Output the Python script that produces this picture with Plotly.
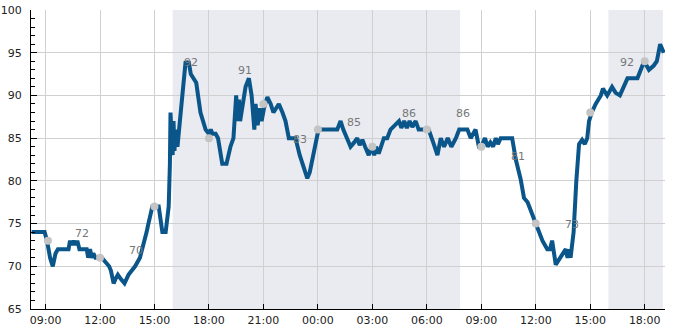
import pandas as pd
import plotly.graph_objects as go

BASE = pd.Timestamp("2024-06-01")

def ts(s):
    d, hm = s.split()
    h, m = hm.split(":")
    return BASE + pd.Timedelta(days=int(d), hours=int(h), minutes=int(m))

# ---- data (day offset + clock time) ----
line_times = [
    "0 08:14", "0 08:57", "0 09:05", "0 09:15", "0 09:24", "0 09:33", "0 09:41", "0 10:16",
    "0 10:21", "0 10:27", "0 10:33", "0 10:39", "0 10:45", "0 10:52", "0 11:16", "0 11:21",
    "0 11:27", "0 11:33", "0 11:38", "0 11:45", "0 12:00", "0 12:06", "0 12:18", "0 12:30",
    "0 12:36", "0 12:45", "0 12:51", "0 12:59", "0 13:09", "0 13:21", "0 13:34", "0 13:45",
    "0 13:56", "0 14:12", "0 14:24", "0 14:34", "0 14:40", "0 14:53", "0 15:14", "0 15:26",
    "0 15:37", "0 15:47", "0 15:51", "0 15:53", "0 15:57", "0 16:00", "0 16:03", "0 16:06",
    "0 16:11", "0 16:16", "0 16:24", "0 16:32", "0 16:38", "0 16:43", "0 16:48", "0 16:53",
    "0 17:00", "0 17:10", "0 17:18", "0 17:32", "0 17:49", "0 18:00", "0 18:06", "0 18:12",
    "0 18:22", "0 18:30", "0 18:44", "0 18:58", "0 19:11", "0 19:21", "0 19:30", "0 19:34",
    "0 19:39", "0 19:43", "0 19:51", "0 20:01", "0 20:12", "0 20:21", "0 20:30", "0 20:34",
    "0 20:41", "0 20:48", "0 20:54", "0 21:02", "0 21:13", "0 21:24", "0 21:33", "0 21:42",
    "0 21:51", "0 22:03", "0 22:13", "0 22:24", "0 22:46", "0 23:00", "0 23:25", "0 23:33",
    "0 23:45", "0 23:58", "1 00:02", "1 01:04", "1 01:15", "1 01:24", "1 01:36", "1 01:48",
    "1 02:00", "1 02:10", "1 02:18", "1 02:27", "1 02:36", "1 02:48", "1 02:57", "1 03:06",
    "1 03:12", "1 03:21", "1 03:38", "1 03:49", "1 04:00", "1 04:28", "1 04:36", "1 04:45",
    "1 04:54", "1 05:03", "1 05:12", "1 05:23", "1 05:33", "1 06:06", "1 06:21", "1 06:35",
    "1 06:46", "1 06:57", "1 07:09", "1 07:21", "1 07:36", "1 07:47", "1 08:14", "1 08:25",
    "1 08:41", "1 08:52", "1 09:00", "1 09:12", "1 09:21", "1 09:30", "1 09:39", "1 09:48",
    "1 09:55", "1 10:04", "1 10:42", "1 10:54", "1 11:10", "1 11:21", "1 11:33", "1 11:48",
    "1 12:00", "1 12:22", "1 12:38", "1 12:47", "1 12:54", "1 13:06", "1 13:22", "1 13:30",
    "1 13:39", "1 13:45", "1 13:51", "1 13:55", "1 14:01", "1 14:05", "1 14:14", "1 14:23",
    "1 14:33", "1 14:42", "1 14:50", "1 14:56", "1 15:05", "1 15:18", "1 15:35", "1 15:42",
    "1 15:56", "1 16:12", "1 16:24", "1 16:38", "1 17:03", "1 17:36", "1 17:58", "1 18:14",
    "1 18:30", "1 18:40", "1 18:51", "1 19:03",
]
line_values = [
    74, 74, 73, 71, 70, 71.5, 72, 72,
    73, 72.5, 73, 72.5, 73, 72, 72, 71,
    72, 71, 71.5, 71, 71, 71, 70.5, 70,
    69.5, 68, 68.5, 69, 68.5, 68, 69, 69.5,
    70, 71, 72.5, 74, 75, 77, 77, 74,
    74, 77, 82, 88, 85, 83, 87, 83.5,
    86, 84, 87, 90, 92, 94, 93.5, 94,
    92.5, 92, 91.5, 88, 86, 85.5, 86, 85.5,
    85.5, 85, 82, 82, 84, 85, 90, 87,
    89.5, 87, 89, 91, 92, 90, 86, 89,
    86.5, 88.5, 87, 88.5, 89.8, 89, 88, 88.5,
    89, 88, 87, 85, 85, 83, 80.3, 81,
    83, 85, 86, 86, 87, 86, 85, 84,
    84.5, 85, 84.2, 84.8, 84, 83, 84, 83,
    84, 83.2, 85, 85, 86, 87, 86.2, 87,
    86.2, 87, 86.3, 87, 86, 86, 84.5, 83,
    85, 84, 85, 84, 85, 86, 86, 85,
    86, 84, 84, 85, 84, 84.5, 84, 85,
    84.3, 85, 85, 82.5, 80.2, 78, 77.5, 76,
    75, 73, 72, 72, 73, 70.2, 71, 71.5,
    72, 71, 72, 71, 73.2, 74, 80, 84.3,
    84.8, 84.3, 85, 87, 88, 89, 90, 90.8,
    90, 91, 90.3, 90, 92, 92, 94, 93,
    93.5, 94, 96, 95,
]

marker_times = ["0 09:08", "0 12:00", "0 15:00", "0 18:00", "0 21:00", "1 00:00",
                "1 03:00", "1 06:00", "1 09:00", "1 12:00", "1 15:00", "1 18:00"]
marker_values = [73, 71, 77, 85, 89, 86, 84, 86, 84, 75, 88, 94]

label_times = ["0 11:00", "0 14:00", "0 17:00", "0 20:00", "0 23:00", "1 02:00",
               "1 05:00", "1 08:00", "1 11:00", "1 14:00", "1 17:00"]
label_values = [72, 70, 92, 91, 83, 85, 86, 86, 81, 73, 92]

night_starts = ["0 16:00", "1 16:00"]
night_ends = ["1 07:50", "1 19:00"]

x_range = ["0 08:12", "1 19:07"]
y_range = [65, 100]

# ---- figure ----
FONT = "DejaVu Sans"
fig = go.Figure()

for s, e in zip(night_starts, night_ends):
    fig.add_shape(type="rect", xref="x", yref="paper", x0=ts(s), x1=ts(e), y0=0, y1=1,
                  fillcolor="#e9ebf1", line_width=0, layer="below")

fig.add_trace(go.Scatter(
    x=[ts(t) for t in line_times], y=line_values, mode="lines",
    line=dict(color="#0a568a", width=4), hoverinfo="skip", showlegend=False,
))
fig.add_trace(go.Scatter(
    x=[ts(t) for t in marker_times], y=marker_values, mode="markers",
    marker=dict(color="#c4c4c4", size=8), showlegend=False,
))

for t, v in zip(label_times, label_values):
    fig.add_annotation(x=ts(t), y=v, text=str(v), showarrow=False, yshift=16,
                       xanchor="center", yanchor="middle",
                       font=dict(family=FONT, size=11, color="#777777"))

fig.update_layout(
    width=685, height=330,
    margin=dict(l=31, r=20, t=10, b=21, autoexpand=False),
    plot_bgcolor="white", paper_bgcolor="white",
    font=dict(family=FONT, size=11, color="#222222"),
    showlegend=False,
)
fig.update_xaxes(
    type="date", range=[ts(x_range[0]), ts(x_range[1])],
    tick0=BASE, dtick=3 * 3600 * 1000, tickformat="%H:%M",
    showgrid=True, gridcolor="#d0d0d0", gridwidth=1,
    showline=True, linecolor="black", linewidth=1,
    ticks="inside", ticklen=5, tickcolor="black",
    zeroline=False, ticklabelstandoff=1, automargin=False,
)
fig.update_yaxes(
    range=y_range, dtick=5, tick0=65,
    showgrid=True, gridcolor="#d0d0d0", gridwidth=1,
    showline=True, linecolor="black", linewidth=1,
    ticks="inside", ticklen=6, tickcolor="black",
    minor=dict(dtick=1, ticks="inside", ticklen=4, tickcolor="black", showgrid=False),
    zeroline=False, ticklabelstandoff=6, automargin=False,
)

fig.write_html("out.html")
